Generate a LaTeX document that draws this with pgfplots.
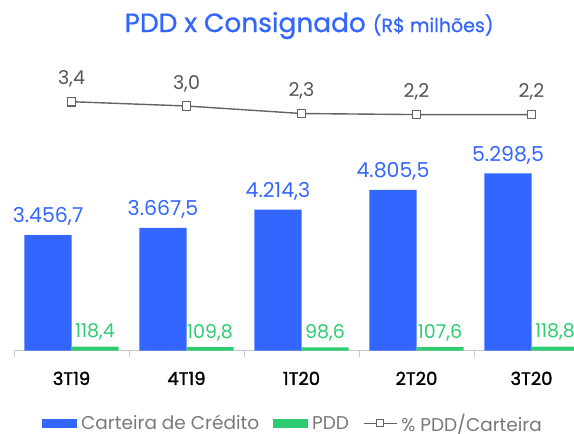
\documentclass[border=0pt]{standalone}
\usepackage{fontspec}
\setmainfont{Poppins}
\newfontfamily\semibfont[FakeBold=1.6]{Poppins}
\newfontfamily\medfont[FakeBold=0.8]{Poppins}
\usepackage{pgfplots}
\pgfplotsset{compat=1.18}
\definecolor{cblue}{RGB}{51,102,255}
\definecolor{cgreen}{RGB}{46,204,113}
\definecolor{axisgray}{RGB}{200,200,200}
\definecolor{linegray}{RGB}{100,100,100}
\definecolor{labelgray}{RGB}{85,85,85}
\definecolor{legendgray}{RGB}{120,120,120}
\pgfplotsset{
  linelegend/.style={legend image code/.code={\draw[mark repeat=2, mark phase=2, ##1] plot coordinates {(0pt,0pt) (16.5pt,0pt) (33pt,0pt)};}}
}
\begin{document}
\begin{tikzpicture}[x=1pt,y=1pt]
\useasboundingbox (0,0) rectangle (574,434);
\begin{axis}[
  at={(14pt,83.3pt)}, anchor=south west,
  scale only axis, width=560pt, height=200.8pt,
  xmin=-0.5, xmax=4.3696, ymin=0, ymax=6000,
  clip=false,
  axis x line*=bottom, axis y line=none,
  axis line style={draw=axisgray, line width=1.2pt, -},
  xtick={0,1,2,3,4}, xticklabels={3T19,4T19,1T20,2T20,3T20},
  major x tick style={draw=none},
  minor xtick={-0.5,0.5,1.5,2.5,3.5},
  minor tick length=6pt, tick align=outside,
  minor x tick style={draw=axisgray, line width=1pt},
  xticklabel style={font=\fontsize{18}{18}\semibfont, text=black, anchor=base, inner sep=0pt, yshift=-30pt},
  /pgf/number format/.cd, use comma, fixed, fixed zerofill, precision=1, assume math mode=true,
  /pgfplots/.cd,
  title={\medfont\fontsize{26.4}{26.4}\selectfont PDD x Consignado \fontsize{19}{19}\selectfont(R\$ milhões)},
  title style={at={(axis description cs:0.527,1.587)}, anchor=base, text=cblue, inner sep=0pt, yshift=-6pt},
  legend columns=-1,
  legend style={at={(axis description cs:0.05,-0.362)}, anchor=west, draw=none, fill=none,
    inner sep=0pt, font=\fontsize{18.5}{18.5}\selectfont, text=legendgray,
    nodes={inner sep=0pt},
    /tikz/every odd column/.append style={column sep=4pt},
    /tikz/every even column/.append style={column sep=14pt}},
]
\addplot[ybar, bar width=47pt, bar shift=-23.5pt, fill=cblue, draw=none,
  legend image code/.code={\fill[cblue] (0pt,-4.5pt) rectangle (35pt,4.5pt);},
  nodes near coords,
  every node near coord/.append style={font=\fontsize{20.5}{20.5}\selectfont, text=cblue, anchor=base, inner sep=0pt, yshift=12.3pt, xshift=-23.5pt}]
  coordinates {(0,3456.7) (1,3667.5) (2,4214.3) (3,4805.5) (4,5298.5)};
\addlegendentry{Carteira de Crédito}
\addplot[ybar, bar width=47pt, bar shift=23.5pt, fill=cgreen, draw=none,
  legend image code/.code={\fill[cgreen] (0pt,-4.5pt) rectangle (35pt,4.5pt);},
  nodes near coords,
  every node near coord/.append style={font=\fontsize{19}{19}\selectfont, text=cgreen, anchor=base, inner sep=0pt, yshift=9pt, xshift=23.5pt}]
  coordinates {(0,118.4) (1,109.8) (2,98.6) (3,107.6) (4,118.8)};
\addlegendentry{PDD}
\addlegendimage{draw=linegray, line width=1.3pt, mark=square*, mark size=3.5pt,
  mark options={fill=white, draw=linegray, line width=1.1pt}, linelegend}
\addlegendentry{\% PDD/Carteira}
\end{axis}
\begin{axis}[
  at={(14pt,317.25pt)}, anchor=south west,
  scale only axis, width=560pt, height=21.5pt,
  xmin=-0.5, xmax=4.3696, ymin=2, ymax=4,
  hide axis, clip=false,
  /pgf/number format/.cd, use comma, fixed, fixed zerofill, precision=1, assume math mode=true,
]
\addplot[draw=linegray, line width=1.4pt, mark=square*, mark size=4.3pt,
  mark options={fill=white, draw=linegray, line width=1.2pt},
  nodes near coords,
  every node near coord/.append style={font=\fontsize{19}{19}\selectfont, text=labelgray, anchor=base, inner sep=0pt, yshift=16.7pt}]
  coordinates {(0,3.4) (1,3.0) (2,2.3) (3,2.2) (4,2.2)};
\end{axis}
\end{tikzpicture}
\end{document}
